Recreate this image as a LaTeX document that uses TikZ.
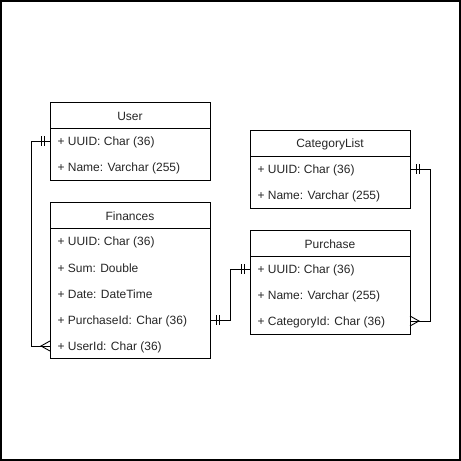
\documentclass[tikz,border=0pt]{standalone}
\usepackage{fontspec}
\setmainfont{Liberation Sans}
\begin{document}
\begin{tikzpicture}[x=1pt,y=-1pt,
  ent/.style={draw=black,line width=0.9pt,fill=white,minimum width=160pt,minimum height=26pt,inner sep=0pt,outer sep=0pt},
  ttl/.style={font=\fontsize{12}{14}\selectfont,text=black!85,yshift=-1.2pt},
  fld/.style={font=\fontsize{12}{14}\selectfont,text=black!85,anchor=west,yshift=-1.2pt},
  conn/.style={draw=black,line width=0.9pt},
  bar/.style={draw=black,line width=0.9pt}]
\useasboundingbox (0,0) rectangle (461,461);
\draw[line width=1.6pt] (0.8,0.8) rectangle (460.2,460.2);

% User
\node[ent,minimum height=78pt,anchor=north west] (user) at (50,102) {};
\draw[line width=0.9pt] (50,128) -- (210,128);
\node[ttl] (usert) at (130,115) {User};
\node[fld] (u1) at (54,141) {+ UUID: Char (36)};
\node[fld] (u2) at (54,167) {+ Name: Varchar (255)};
\coordinate (uL) at (50,141);

% Finances
\node[ent,minimum height=156pt,anchor=north west] (fin) at (50,202) {};
\draw[line width=0.9pt] (50,228) -- (210,228);
\node[ttl] (fint) at (130,215) {Finances};
\node[fld] (f1) at (54,241) {+ UUID: Char (36)};
\node[fld] (f2) at (54,267) {+ Sum: Double};
\node[fld] (f3) at (54,293) {+ Date: DateTime};
\node[fld] (f4) at (54,320) {+ PurchaseId: Char (36)};
\node[fld] (f5) at (54,346) {+ UserId: Char (36)};
\coordinate (fL) at (50,346);
\coordinate (fR) at (210,320);

% CategoryList
\node[ent,minimum height=78pt,anchor=north west] (cat) at (250,130) {};
\draw[line width=0.9pt] (250,156) -- (410,156);
\node[ttl] (catt) at (330,143) {CategoryList};
\node[fld] (c1) at (254,169) {+ UUID: Char (36)};
\node[fld] (c2) at (254,195) {+ Name: Varchar (255)};
\coordinate (cR) at (410,169);

% Purchase
\node[ent,minimum height=104pt,anchor=north west] (pur) at (250,230) {};
\draw[line width=0.9pt] (250,256) -- (410,256);
\node[ttl] (purt) at (330,243) {Purchase};
\node[fld] (p1) at (254,269) {+ UUID: Char (36)};
\node[fld] (p2) at (254,295) {+ Name: Varchar (255)};
\node[fld] (p3) at (254,321) {+ CategoryId: Char (36)};
\coordinate (pL) at (250,269);
\coordinate (pR) at (410,321);

% User -> Finances
\draw[conn] (uL) -| (31,346) -- (fL);
\draw[bar] (41,136) -- (41,146) (44,136) -- (44,146);
\draw[bar] (50,341) -- (41,346) -- (50,351);

% Finances -> Purchase
\draw[conn] (fR) -| (230,269) -- (pL);
\draw[bar] (216,315) -- (216,325) (219,315) -- (219,325);
\draw[bar] (241,264) -- (241,274) (244,264) -- (244,274);

% CategoryList -> Purchase
\draw[conn] (cR) -| (430,321) -- (pR);
\draw[bar] (416,164) -- (416,174) (419,164) -- (419,174);
\draw[bar] (410,316) -- (419,321) -- (410,326);
\end{tikzpicture}
\end{document}
